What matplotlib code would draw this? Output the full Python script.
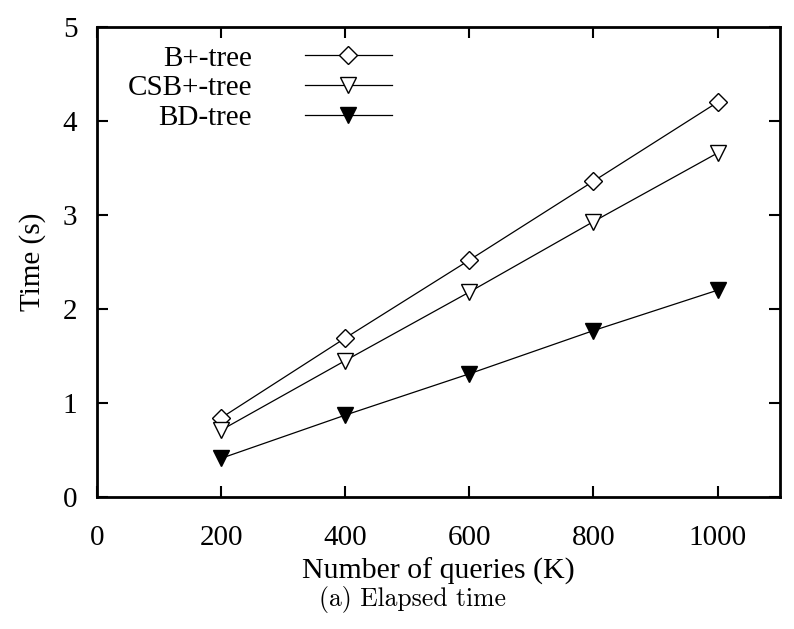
import matplotlib
matplotlib.use('Agg')
import matplotlib.pyplot as plt

queries = [200, 400, 600, 800, 1000]
bplus = [0.84, 1.69, 2.52, 3.36, 4.20]
csbplus = [0.71, 1.45, 2.18, 2.93, 3.66]
bdtree = [0.41, 0.87, 1.31, 1.77, 2.20]

plt.rcParams['font.family'] = ['Liberation Serif', 'DejaVu Serif']
plt.rcParams['font.size'] = 21

fig = plt.figure(figsize=(7.94, 6.29), dpi=100)
ax = fig.add_axes([0.122, 0.210, 0.860, 0.747])

ax.plot(queries, bplus, color='black', lw=0.9, marker='D', ms=9,
        mfc='white', mec='black', mew=1.0, label='B+-tree')
ax.plot(queries, csbplus, color='black', lw=0.9, marker='v', ms=12,
        mfc='white', mec='black', mew=1.0, label='CSB+-tree')
ax.plot(queries, bdtree, color='black', lw=0.9, marker='v', ms=12,
        mfc='black', mec='black', label='BD-tree')

ax.set_xlim(0, 1100)
ax.set_ylim(0, 5)
ax.set_xticks([0, 200, 400, 600, 800, 1000])
ax.set_yticks([0, 1, 2, 3, 4, 5])
ax.tick_params(direction='in', length=8, width=1.5, top=True, right=True)
ax.tick_params(axis='x', pad=20)
ax.tick_params(axis='y', pad=14)
for s in ax.spines.values():
    s.set_linewidth(2)

ax.set_xlabel('Number of queries (K)', labelpad=5, fontsize=21.5)
ax.set_ylabel('Time (s)', labelpad=12)

ax.legend(loc='upper left', bbox_to_anchor=(0.015, 1.005), frameon=False,
          markerfirst=False, handlelength=3.0, handletextpad=1.8,
          labelspacing=0.12, borderaxespad=0.3, fontsize=21)

fig.text(0.52, 0.036, '(a) Elapsed time', ha='center', fontsize=18.5, family='cmr10')

fig.savefig('out.png', dpi=100)
